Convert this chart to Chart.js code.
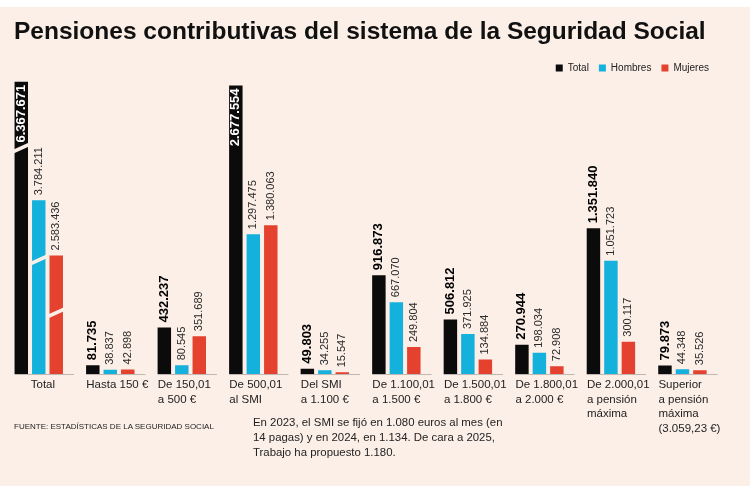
<!DOCTYPE html>
<html lang="es">
<head>
<meta charset="UTF-8">
<title>Pensiones contributivas del sistema de la Seguridad Social</title>
<script src="https://cdn.jsdelivr.net/npm/chart.js"></script>
<style>
  body { margin: 0; background: #fff; }
  #wrap { position: relative; width: 750px; height: 486px; overflow: hidden; }
  #fondo { position: absolute; left: 0; top: 7px; width: 750px; height: 479px; background: #fcefe8; }
  canvas { position: absolute; left: 0; top: 0; }
  h1 { position: absolute; left: 14px; top: 18px; margin: 0; white-space: nowrap;
       font: bold 24.5px/25px "Liberation Sans", Arial, sans-serif; color: #111; }
  .fuente { position: absolute; left: 14px; top: 422px; white-space: nowrap;
            font: 8px/10px "Liberation Sans", sans-serif; color: #222; }
  .nota { position: absolute; left: 253px; top: 415px; white-space: nowrap;
          font: 11.4px/15px "Liberation Sans", sans-serif; color: #222; }
</style>
</head>
<body>
<div id="wrap">
  <div id="fondo"></div>
  <canvas id="grafico" width="750" height="486"></canvas>
  <h1>Pensiones contributivas del sistema de la Seguridad Social</h1>
  <div class="fuente">FUENTE: ESTADÍSTICAS DE LA SEGURIDAD SOCIAL</div>
  <div class="nota">En 2023, el SMI se fijó en 1.080 euros al mes (en<br>14 pagas) y en 2024, en 1.134. De cara a 2025,<br>Trabajo ha propuesto 1.180.</div>
</div>

<script>
  // datos (número de pensiones por tramo de cuantía)
  const categorias = [
    ['Total'],
    ['Hasta 150 €'],
    ['De 150,01', 'a 500 €'],
    ['De 500,01', 'al SMI'],
    ['Del SMI', 'a 1.100 €'],
    ['De 1.100,01', 'a 1.500 €'],
    ['De 1.500,01', 'a 1.800 €'],
    ['De 1.800,01', 'a 2.000 €'],
    ['De 2.000,01', 'a pensión', 'máxima'],
    ['Superior', 'a pensión', 'máxima', '(3.059,23 €)']
  ];
  const total   = [6367671, 81735, 432237, 2677554, 49803, 916873, 506812, 270944, 1351840, 79873];
  const hombres = [3784211, 38837, 80545, 1297475, 34255, 667070, 371925, 198034, 1051723, 44348];
  const mujeres = [2583436, 42898, 351689, 1380063, 15547, 249804, 134884, 72908, 300117, 35526];
  const nombres = ['Total', 'Hombres', 'Mujeres'];

  const colores = ['#0b0b0b', '#14b1dc', '#e5412f'];
  const fondo = '#fcefe8';
  const corte = 0;                       // la columna "Total" va en eje cortado
  const alturaCorte = [0.773, 0.656, 0.516];

  const formato = v => String(v).replace(/\B(?=(\d{3})+(?!\d))/g, '.');

  const series = [total, hombres, mujeres];
  const datasets = [];
  series.forEach((s, k) => datasets.push({
    label: nombres[k], data: s.map((v, i) => i === corte ? null : v),
    backgroundColor: colores[k], yAxisID: 'y', serie: k
  }));
  series.forEach((s, k) => datasets.push({
    label: nombres[k], data: s.map((v, i) => i === corte ? v : null),
    backgroundColor: colores[k], yAxisID: 'yCorte', serie: k, cortado: true, clip: false
  }));

  // línea base por tramo
  const lineaBase = {
    id: 'lineaBase',
    beforeDatasetsDraw(chart) {
      const ctx = chart.ctx, y = chart.chartArea.bottom + 0.5;
      ctx.save();
      ctx.strokeStyle = '#bdb6b1';
      ctx.lineWidth = 1;
      categorias.forEach((c, i) => {
        const bars = [];
        chart.data.datasets.forEach((d, j) => {
          if (d.data[i] != null) bars.push(chart.getDatasetMeta(j).data[i]);
        });
        const a = bars[0], b = bars[bars.length - 1];
        ctx.beginPath();
        ctx.moveTo(a.x - a.width / 2, y);
        ctx.lineTo(b.x + b.width / 2 + 11, y);
        ctx.stroke();
      });
      ctx.restore();
    }
  };

  // marcas de corte y etiquetas
  const etiquetas = {
    id: 'etiquetas',
    afterDatasetsDraw(chart) {
      const ctx = chart.ctx, top = chart.chartArea.top;
      ctx.save();
      chart.data.datasets.forEach((d, j) => {
        const meta = chart.getDatasetMeta(j);
        d.data.forEach((v, i) => {
          if (v == null) return;
          const el = meta.data[i];
          if (d.cortado) {
            const yc = el.base - (el.base - el.y) * alturaCorte[d.serie];
            const x0 = el.x - el.width / 2 - 1, x1 = el.x + el.width / 2 + 1;
            ctx.fillStyle = fondo;
            ctx.beginPath();
            ctx.moveTo(x0, yc + 5.5);
            ctx.lineTo(x1, yc - 1.5);
            ctx.lineTo(x1, yc - 5.5);
            ctx.lineTo(x0, yc + 1.5);
            ctx.closePath();
            ctx.fill();
          }
          const txt = formato(v);
          const negrita = d.serie === 0;
          ctx.font = negrita ? 'bold 13px "Liberation Sans", sans-serif'
                             : '11px "Liberation Sans", sans-serif';
          const w = ctx.measureText(txt).width;
          const dentro = el.y - 5 - w < top - 6;
          ctx.save();
          ctx.textBaseline = 'middle';
          if (dentro) {
            ctx.translate(el.x, el.y + 3);
            ctx.rotate(-Math.PI / 2);
            ctx.textAlign = 'right';
            ctx.fillStyle = '#fff';
          } else {
            ctx.translate(el.x, el.y - 5);
            ctx.rotate(-Math.PI / 2);
            ctx.textAlign = 'left';
            ctx.fillStyle = negrita ? '#000' : '#2a2a2a';
          }
          ctx.fillText(txt, 0, 0);
          ctx.restore();
        });
      });
      ctx.restore();
    }
  };

  const ctx = document.getElementById('grafico').getContext('2d');
  new Chart(ctx, {
    type: 'bar',
    data: { labels: categorias, datasets: datasets },
    plugins: [lineaBase, etiquetas],
    options: {
      responsive: false,
      animation: false,
      events: [],
      skipNull: true,
      categoryPercentage: 0.733,
      barPercentage: 0.77,
      layout: { padding: { left: 3, right: 31, top: 53, bottom: 46 } },
      plugins: {
        tooltip: { enabled: false },
        legend: {
          position: 'top',
          align: 'end',
          labels: {
            boxWidth: 7, boxHeight: 7, padding: 10, color: '#222',
            font: { family: '"Liberation Sans", sans-serif', size: 10 },
            filter: item => item.datasetIndex < 3
          }
        }
      },
      scales: {
        x: {
          grid: { display: false, drawTicks: false },
          border: { display: false },
          ticks: {
            align: 'start',
            labelOffset: -24,
            padding: 4,
            autoSkip: false,
            maxRotation: 0,
            color: '#222',
            font: { family: '"Liberation Sans", sans-serif', size: 11.5, lineHeight: 1.26 },
            callback: (v, i) => i === corte ? '\u00a0'.repeat(5) + categorias[i][0] : categorias[i]
          }
        },
        y: { display: false, min: 0, max: 2700000 },
        yCorte: { display: false, min: 0, max: 6340000 }
      }
    }
  });
</script>
</body>
</html>
